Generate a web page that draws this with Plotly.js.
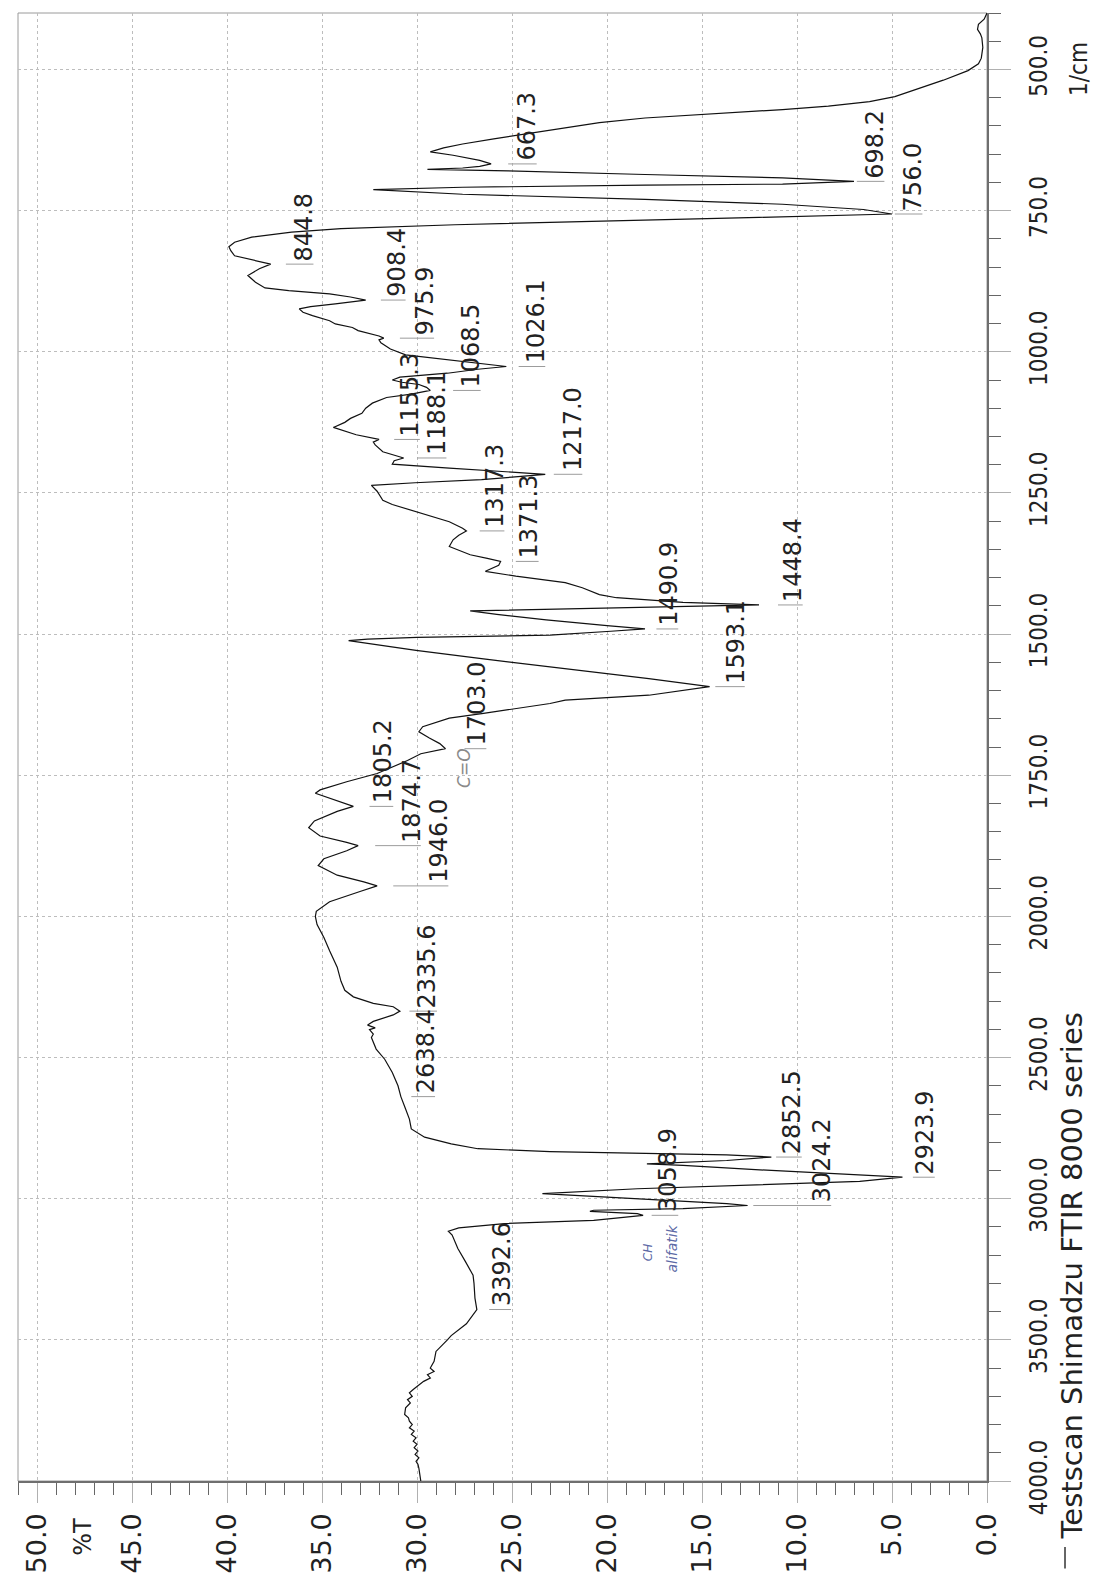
<!DOCTYPE html>
<html>
<head>
<meta charset="utf-8">
<script src="https://cdn.plot.ly/plotly-3.0.1.min.js"></script>
<style>
  html, body { margin: 0; padding: 0; background: #fff; }
  #chart { width: 1096px; height: 1580px; }
</style>
</head>
<body>
<div id="chart"></div>
<script>
// FTIR spectrum, %T against wavenumber (1/cm), printed in portrait orientation.
const wavenumber = [
  400, 411, 420, 429, 437, 444, 461, 480, 490, 502, 519, 536, 548, 557, 565, 571, 576, 580, 586, 594,
  606, 614, 623, 632, 639, 646, 652, 661, 667.3, 671.5, 674.5, 677, 679.5, 686, 692, 698.2, 703, 705, 708.6, 712.7,
  721, 730, 738.7, 748, 756.0, 762, 768, 775, 782, 788, 797, 806, 814, 821, 830, 837, 844.8, 853, 865, 877,
  887, 891.7, 897.6, 903, 908.4, 915, 920, 924, 930, 936, 945, 950.7, 957, 962.5, 969, 972, 975.9, 979, 984, 995,
  1005.5, 1012.9, 1018.5, 1026.1, 1031, 1038, 1045, 1050, 1054, 1058, 1063, 1068.5, 1075, 1081, 1091, 1100, 1109, 1118, 1125, 1134,
  1147, 1152, 1155.3, 1160, 1165, 1177, 1185, 1188.1, 1193, 1199, 1206, 1213, 1217.0, 1222, 1226.6, 1232, 1236.5, 1247, 1262.9, 1270.5,
  1283, 1301, 1312.6, 1317.3, 1325, 1333, 1345, 1359.5, 1366, 1371.3, 1378, 1388.8, 1397.5, 1409, 1418, 1430, 1435.6, 1444, 1448.4, 1453,
  1456, 1459, 1465, 1475, 1485, 1490.9, 1495, 1502, 1506, 1509, 1511.5, 1520, 1529, 1544, 1558, 1564, 1579, 1593.1, 1600, 1608.3,
  1617, 1623, 1640.5, 1649, 1664, 1673, 1684, 1694, 1703.0, 1712, 1724, 1747, 1761.6, 1776, 1782, 1793.6, 1805.2, 1814, 1831, 1843,
  1857.6, 1869, 1874.7, 1883.7, 1898, 1910, 1927, 1939, 1946.0, 1956, 1974, 1991, 2000, 2029, 2075, 2122, 2180, 2230, 2262, 2285,
  2308, 2320, 2335.6, 2349, 2360, 2372, 2385, 2395, 2401, 2417, 2429, 2470, 2506, 2553, 2600, 2638.4, 2682, 2718, 2753, 2782,
  2806, 2823, 2833, 2839, 2845, 2852.5, 2864.7, 2876.5, 2882, 2900, 2917.6, 2923.9, 2939, 2953, 2964.7, 2982, 3000, 3017.6, 3024.2, 3035,
  3041, 3044.7, 3053, 3058.9, 3076.5, 3088, 3103.5, 3115, 3129, 3176.5, 3223, 3271, 3300, 3352, 3392.6, 3443, 3485, 3500, 3541, 3576,
  3600, 3612, 3623.5, 3635, 3647, 3659, 3670.5, 3676, 3688, 3700, 3712, 3723.5, 3741, 3764.6, 3776, 3788, 3800, 3811.6, 3823, 3835,
  3847, 3858.7, 3870, 3882, 3894, 3906, 3918, 3930, 3941, 3955, 3976, 4000
];
const transmittance = [
  0.0, 0.15, 0.45, 0.5, 0.35, 0.27, 0.22, 0.3, 0.45, 1.0, 2.3, 3.77, 4.85, 6.18, 8.35, 10.76, 13.17, 14.86, 18.0, 20.4,
  22.8, 24.27, 25.96, 27.6, 28.6, 29.3, 28.1, 26.7, 26.1, 26.7, 27.6, 29.45, 25.2, 18.0, 10.76, 7.0, 10.76, 18.0, 27.6, 32.3,
  27.6, 18.0, 10.76, 6.5, 5.0, 12.0, 20.0, 28.0, 34.0, 36.6, 38.7, 39.6, 39.9, 39.8, 39.6, 38.7, 37.7, 38.3, 38.9, 38.5,
  38.0, 36.75, 34.6, 33.5, 32.7, 34.3, 35.6, 36.2, 36.0, 35.5, 34.6, 34.3, 33.4, 33.1, 32.4, 32.0, 31.75, 32.0, 31.9, 31.4,
  30.6, 28.7, 27.2, 25.3, 26.8, 28.4, 30.9, 31.3, 30.8, 29.9, 29.5, 29.3, 30.3, 31.6, 32.35, 32.7, 32.9, 33.5, 33.8, 34.4,
  33.2, 32.5, 32.0, 32.3, 32.2, 31.8, 31.0, 30.7, 31.2, 31.3, 28.3, 24.8, 23.25, 25.0, 26.6, 30.1, 32.4, 32.1, 31.8, 31.3,
  30.05, 28.3, 27.6, 27.4, 27.8, 28.1, 28.3, 27.2, 26.3, 25.6, 25.7, 26.4, 24.8, 22.2, 21.3, 20.4, 19.5, 16.0, 12.0, 18.5,
  24.0, 27.2, 25.8, 23.2, 20.0, 18.0, 19.8, 23.0, 30.0, 32.6, 33.6, 31.8, 30.05, 26.5, 23.0, 21.3, 17.8, 14.6, 16.0, 17.8,
  22.2, 23.0, 26.5, 28.3, 29.7, 29.9, 29.35, 28.8, 28.5, 29.8, 30.5, 32.1, 33.7, 35.1, 35.35, 34.4, 33.35, 34.2, 35.4, 35.7,
  35.1, 33.7, 33.1, 33.7, 34.9, 35.2, 34.2, 32.8, 32.1, 33.0, 34.6, 35.3, 35.35, 35.26, 34.9, 34.6, 34.2, 34.0, 33.8, 33.35,
  32.3, 31.25, 30.9, 31.25, 31.8, 32.3, 32.6, 32.2, 32.5, 32.3, 32.4, 32.15, 31.7, 31.3, 31.0, 30.85, 30.6, 30.4, 30.3, 29.6,
  28.2, 26.8, 23.0, 18.4, 13.7, 11.35, 13.7, 17.9, 16.0, 11.35, 6.7, 4.45, 6.7, 13.7, 18.4, 23.4, 18.4, 13.7, 12.6, 16.0,
  20.7, 20.9, 18.4, 18.1, 20.7, 25.4, 27.8, 28.35, 28.15, 27.85, 27.45, 27.05, 27.0, 26.95, 26.85, 27.4, 28.2, 28.4, 29.0, 29.1,
  29.3, 29.1, 29.45, 29.3, 29.65, 29.85, 30.1, 30.2, 30.4, 30.25, 30.5, 30.35, 30.6, 30.65, 30.45, 30.4, 30.25, 30.4, 30.15, 30.3,
  30.05, 30.2, 30.0, 30.15, 29.95, 30.1, 29.9, 30.05, 29.95, 29.9, 29.85, 29.8
];

// Picked peaks (1/cm)
const peakWavenumbers = [
  667.3, 698.2, 756.0, 844.8, 908.4, 975.9, 1026.1, 1068.5, 1155.3, 1188.1, 1217.0, 1317.3, 1371.3, 1448.4,
  1490.9, 1593.1, 1703.0, 1805.2, 1874.7, 1946.0, 2335.6, 2638.4, 2852.5, 2923.9, 3024.2, 3058.9, 3392.6
];
// Where each peak label sits across the %T axis: leader start and text centre
const peakLeaderFrom = [
  25.2, 6.85, 4.85, 36.9, 31.9, 30.9, 24.65, 28.1, 31.2, 30.0, 22.8, 26.7, 24.8, 11.0,
  17.4, 14.3, 27.5, 32.5, 32.2, 31.25, 30.4, 30.3, 11.1, 3.9, 12.3, 17.65, 26.2
];
const peakTextAt = [
  24.2, 5.9, 3.9, 35.95, 31.1, 29.6, 23.75, 27.15, 30.35, 28.95, 21.8, 25.9, 24.1, 10.2,
  16.75, 13.25, 26.85, 31.75, 30.3, 28.85, 29.45, 29.55, 10.25, 3.25, 8.7, 16.75, 25.55
];

const wnTicks = [500, 750, 1000, 1250, 1500, 1750, 2000, 2500, 3000, 3500, 4000];
const tTicks = [0, 5, 10, 15, 20, 25, 30, 35, 40, 45, 50];

// Above 2000 1/cm the wavenumber scale is compressed by a factor of two.
function u(w) { return w <= 2000 ? w : 2000 + (w - 2000) / 2; }

const LABEL_FONT = 'DejaVu Sans, Verdana, sans-serif';
const AXIS_FONT = 'DejaVu Sans Condensed, DejaVu Sans, sans-serif';
const GRID = '#bdbdbd';

const spectrum = {
  type: 'scatter',
  mode: 'lines',
  x: transmittance,
  y: wavenumber.map(u),
  line: { color: '#111', width: 1.2 },
  hoverinfo: 'skip',
  cliponaxis: true
};

const shapes = [
  // plot frame
  { type: 'rect', xref: 'paper', yref: 'paper', x0: 0, x1: 1, y0: 0, y1: 1,
    line: { color: '#9a9a9a', width: 1 }, layer: 'below' },
  // legend line sample
  { type: 'line', xref: 'paper', yref: 'paper', x0: 1.0805, x1: 1.0805, y0: -0.0596, y1: -0.0450,
    line: { color: '#333', width: 1.5 } }
];

const annotations = [];

peakWavenumbers.forEach((w, i) => {
  shapes.push({
    type: 'line', xref: 'x', yref: 'y',
    x0: peakLeaderFrom[i], x1: peakTextAt[i] - 0.5, y0: u(w), y1: u(w),
    line: { color: '#9c9c9c', width: 1 }
  });
  annotations.push({
    xref: 'x', yref: 'y', x: peakTextAt[i], y: u(w),
    text: w.toFixed(1), showarrow: false, textangle: -90,
    xanchor: 'center', yanchor: 'bottom', yshift: 1,
    font: { family: LABEL_FONT, size: 24, color: '#222' }
  });
});

// axis captions and instrument line
annotations.push(
  { xref: 'x', yref: 'paper', x: 47.55, y: -0.024, text: '%T', showarrow: false, textangle: -90,
    xanchor: 'center', yanchor: 'top', font: { family: LABEL_FONT, size: 24, color: '#222' } },
  { xref: 'paper', yref: 'y', x: 1.0955, y: u(500), text: '1/cm', showarrow: false, textangle: -90,
    xanchor: 'center', yanchor: 'middle', font: { family: AXIS_FONT, size: 24, color: '#222' } },
  { xref: 'paper', yref: 'paper', x: 1.0875, y: -0.0410, text: 'Testscan Shimadzu FTIR 8000 series',
    showarrow: false, textangle: -90, xanchor: 'center', yanchor: 'bottom',
    font: { family: LABEL_FONT, size: 29, color: '#222' } }
);

// pen notes on the print
annotations.push(
  { xref: 'x', yref: 'y', x: 27.5, y: u(1738), text: 'C=O', showarrow: false, textangle: -90,
    font: { family: 'DejaVu Sans', size: 17, color: '#8a8a8a', style: 'italic' } },
  { xref: 'x', yref: 'y', x: 17.8, y: u(3190), text: 'CH', showarrow: false, textangle: -90,
    font: { family: 'DejaVu Sans', size: 12, color: '#5d6aa6', style: 'italic' } },
  { xref: 'x', yref: 'y', x: 16.6, y: u(3178), text: 'alifatik', showarrow: false, textangle: -90,
    font: { family: 'DejaVu Sans', size: 14, color: '#5d6aa6', style: 'italic' } }
);

const layout = {
  width: 1096,
  height: 1580,
  margin: { l: 18, r: 109, t: 13, b: 99, pad: 0 },
  paper_bgcolor: '#ffffff',
  plot_bgcolor: '#ffffff',
  showlegend: false,
  font: { family: LABEL_FONT, color: '#222' },
  xaxis: {
    range: [51, 0],
    tickmode: 'array',
    tickvals: tTicks,
    ticktext: tTicks.map(v => v.toFixed(1)),
    tickangle: -90,
    ticks: 'outside', ticklen: 20, tickwidth: 1, tickcolor: '#b0b0b0',
    ticklabelstandoff: 0,
    tickfont: { family: LABEL_FONT, size: 27, color: '#222' },
    showgrid: true, gridcolor: GRID, griddash: 'dot', gridwidth: 1,
    zeroline: false,
    showline: true, linecolor: '#6f6f6f', linewidth: 1.5,
    minor: { tickmode: 'linear', tick0: 0, dtick: 1, ticks: 'outside', ticklen: 12,
             tickcolor: '#666', tickwidth: 1, showgrid: false },
    fixedrange: true
  },
  yaxis: {
    range: [u(4000), 400],
    side: 'right',
    tickmode: 'array',
    tickvals: wnTicks.map(u),
    ticktext: wnTicks.map(v => v.toFixed(1)),
    tickangle: -90,
    ticks: 'outside', ticklen: 22, tickwidth: 1, tickcolor: '#b0b0b0',
    ticklabelstandoff: 8,
    tickfont: { family: AXIS_FONT, size: 24, color: '#222' },
    showgrid: true, gridcolor: GRID, griddash: 'dot', gridwidth: 1,
    zeroline: false,
    showline: true, linecolor: '#6f6f6f', linewidth: 1.5,
    minor: { tickmode: 'linear', tick0: 0, dtick: 50, ticks: 'outside', ticklen: 12,
             tickcolor: '#666', tickwidth: 1, showgrid: false },
    fixedrange: true
  },
  shapes: shapes,
  annotations: annotations
};

Plotly.newPlot('chart', [spectrum], layout, { displayModeBar: false, staticPlot: true });
</script>
</body>
</html>
